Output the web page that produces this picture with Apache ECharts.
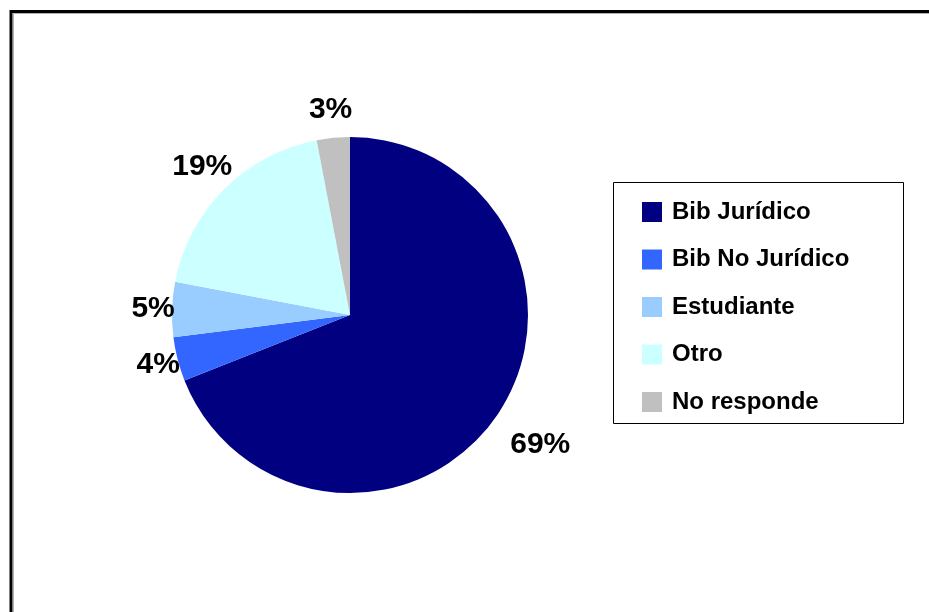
<!DOCTYPE html>
<html>
<head>
<meta charset="utf-8">
<script src="https://cdn.jsdelivr.net/npm/echarts@6/dist/echarts.min.js"></script>
<style>
html,body{margin:0;padding:0;background:#fff;}
#chart{width:929px;height:612px;}
</style>
</head>
<body>
<div id="chart"></div>
<script>
// Data
var categories = ['Bib Jurídico', 'Bib No Jurídico', 'Estudiante', 'Otro', 'No responde'];
var percents = [69, 4, 5, 19, 3];

// Styles (kept separate from the data)
var colors = ['#000080', '#3366FF', '#99CCFF', '#CCFFFF', '#C0C0C0'];
var labelLineLengths = [52, 20, 19, 31, 28];

var FONT = 'Arial, "Liberation Sans", sans-serif';

var pieData = categories.map(function (name, i) {
  return {
    name: name,
    value: percents[i],
    itemStyle: { color: colors[i] },
    labelLine: { show: false, length: labelLineLengths[i], length2: 0 }
  };
});

var chart = echarts.init(document.getElementById('chart'), null, { renderer: 'canvas' });
chart.setOption({
  animation: false,
  backgroundColor: '#ffffff',
  graphic: [
    { type: 'rect', silent: true, z: 0,
      shape: { x: 11, y: 11.5, width: 1000, height: 700 },
      style: { fill: null, stroke: '#000', lineWidth: 3 } },
    { type: 'rect', silent: true, z: 0,
      shape: { x: 13.5, y: 13.5, width: 1000, height: 700 },
      style: { fill: null, stroke: '#b0b0b0', lineWidth: 1 } },
    { type: 'rect', silent: true, z: 0,
      shape: { x: 613.5, y: 182.5, width: 290, height: 241 },
      style: { fill: '#fff', stroke: '#000', lineWidth: 1 } }
  ],
  legend: {
    orient: 'vertical',
    left: 642,
    top: 200,
    padding: 0,
    itemWidth: 20,
    itemHeight: 20,
    itemGap: 23.5,
    icon: 'rect',
    selectedMode: false,
    data: categories,
    textStyle: {
      fontFamily: FONT,
      fontWeight: 'bold',
      fontSize: 24,
      color: '#000',
      lineHeight: 20,
      padding: [0, 0, 0, 5]
    }
  },
  series: [{
    type: 'pie',
    silent: true,
    center: [350, 315],
    radius: [0, 178],
    startAngle: 90,
    clockwise: true,
    avoidLabelOverlap: false,
    emphasis: { disabled: true },
    itemStyle: { borderWidth: 0 },
    label: {
      show: true,
      position: 'outside',
      formatter: '{c}%',
      fontFamily: FONT,
      fontWeight: 'bold',
      fontSize: 30,
      color: '#000',
      distanceToLabelLine: 0
    },
    labelLine: { show: false },
    labelLayout: function () { return { align: 'center', verticalAlign: 'middle' }; },
    data: pieData
  }]
});
</script>
</body>
</html>
